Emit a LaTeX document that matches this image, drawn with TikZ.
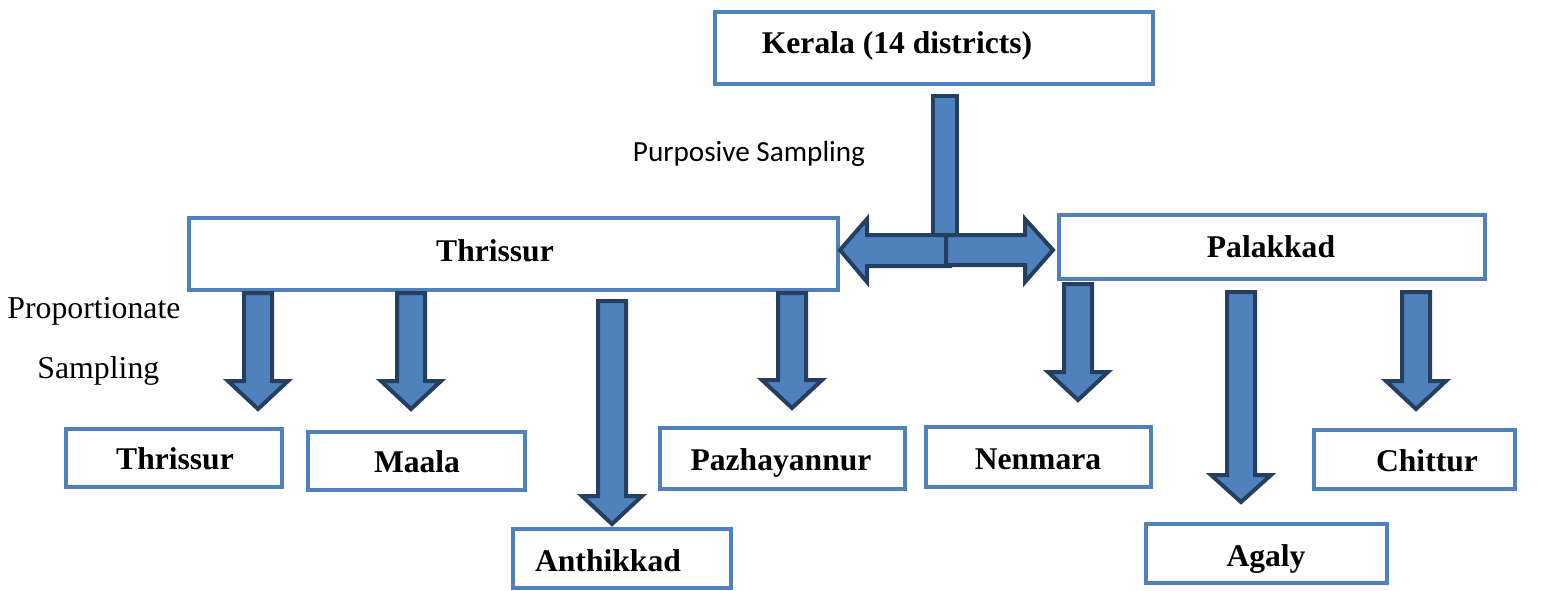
\documentclass[tikz,border=0pt]{standalone}
\usepackage{fontspec}
\setmainfont{Liberation Serif}
\newfontfamily\carl{Carlito}
\usetikzlibrary{fit}
\definecolor{boxblue}{HTML}{4F81BD}
\definecolor{arrfill}{HTML}{4F81BD}
\definecolor{arrline}{HTML}{243F60}
\tikzset{
  box/.style={draw=boxblue, line width=2pt, fill=white, inner sep=0pt},
  lbl/.style={font=\fontsize{15.8}{18}\selectfont\bfseries, inner sep=0pt, anchor=base},
  plain/.style={font=\fontsize{15.9}{18}\selectfont, inner sep=0pt, anchor=base west},
  blk/.style={draw=arrline, fill=arrfill, line width=2pt, line join=miter},
}
\newcommand\blkdown[4]{%
  \draw[blk] ({#1-14},#2) -- ({#1+14},#2) -- ({#1+14},#3) -- ({#1+30},#3)
    -- (#1,#4) -- ({#1-30},#3) -- ({#1-14},#3) -- cycle;}
\newcommand\bx[8]{%
  \node[box, fit={(#2,#3) (#4,#5)}] (#1) {};
  \node[lbl] (#1T) at (#6,#7) {#8};}
\begin{document}
\begin{tikzpicture}[x=0.5pt,y=-0.5pt]
\useasboundingbox (0,0) rectangle (1547,590);
% boxes
\bx{kerala}{715}{12}{1153}{84}{897}{53}{Kerala (14 districts)}
\bx{thrT}{189}{218}{838}{290}{495}{261}{Thrissur}
\bx{pal}{1059}{215}{1485}{279}{1271}{257}{Palakkad}
\bx{thr}{66}{429}{282}{487}{175}{469}{Thrissur}
\bx{maala}{308}{432}{525}{490}{417}{472}{Maala}
\bx{anth}{513}{529}{731}{588}{608}{571}{Anthikkad}
\bx{pazh}{660}{428}{905}{489}{781}{470}{Pazhayannur}
\bx{nen}{926}{427}{1151}{487}{1038}{469}{Nenmara}
\bx{chit}{1314}{430}{1515}{489}{1427}{471}{Chittur}
\bx{agaly}{1146}{524}{1387}{583}{1266}{566}{Agaly}
% central stem and double arrow
\draw[blk] (933,96) rectangle (957,236);
\draw[blk] (840,250) -- (867,219) -- (867,235) -- (950,235) -- (950,266)
  -- (867,266) -- (867,282) -- cycle;
\draw[blk] (946,235) -- (1025,235) -- (1025,219) -- (1053,250) -- (1025,282)
  -- (1025,265) -- (946,265) -- cycle;
% down arrows
\blkdown{258}{293}{381}{409}
\blkdown{411}{293}{381}{409}
\blkdown{612}{301}{496}{524}
\blkdown{792}{293}{380}{408}
\blkdown{1078}{284}{372}{400}
\blkdown{1241}{292}{475}{502}
\blkdown{1416}{292}{381}{409}
% labels
\node[inner sep=0pt, anchor=base, font=\carl\fontsize{14.6}{17}\selectfont] (purp) at (749,161) {Purposive Sampling};
\node[plain] (prop1) at (7,318) {Proportionate};
\node[plain] (prop2) at (37,378) {Sampling};
\end{tikzpicture}
\end{document}
